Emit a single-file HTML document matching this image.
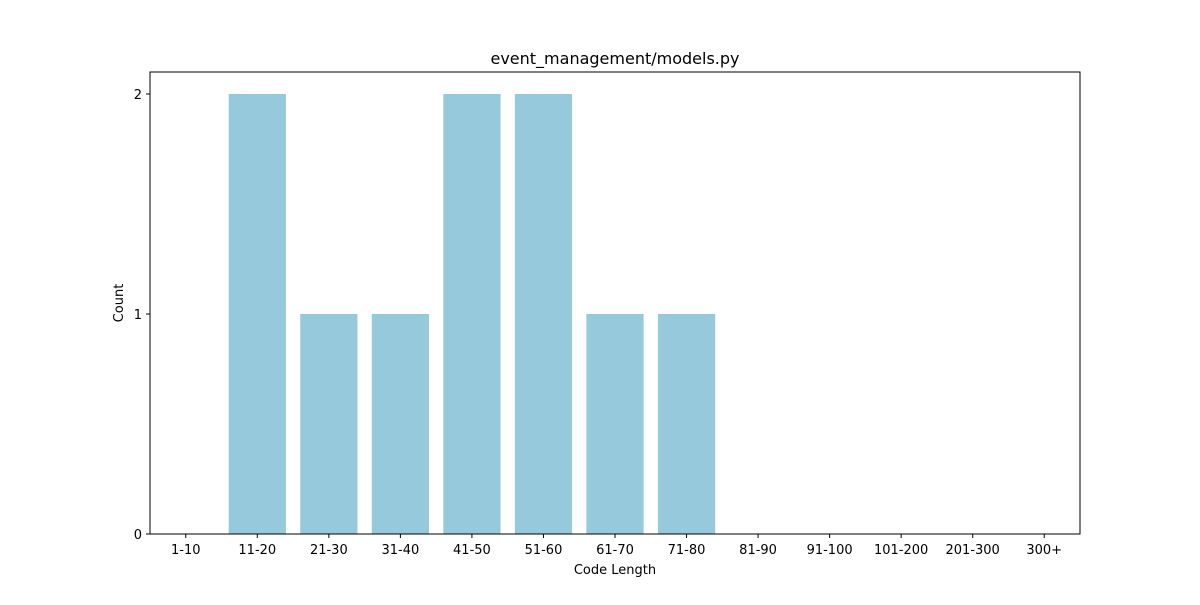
<!DOCTYPE html>
<html><head><meta charset="utf-8"><style>
body{margin:0;background:#fff;}
svg text{font-family:"DejaVu Sans","Liberation Sans",sans-serif;fill:#000;}
</style></head><body>
<svg id="chart" width="1200" height="600">
<rect width="1200" height="600" fill="#fff"/>
<text x="615" y="64" font-size="16" text-anchor="middle">event_management/models.py</text>
<g id="bars"></g>
<g id="ticks"></g>
<rect x="150" y="72" width="930" height="462" fill="none" stroke="#000" stroke-width="1"/>
<text x="615" y="574" font-size="13" text-anchor="middle">Code Length</text>
<text x="123" y="303" font-size="13" text-anchor="middle" transform="rotate(-90 123 303)">Count</text>
</svg>
<script>
const categories=["1-10","11-20","21-30","31-40","41-50","51-60","61-70","71-80","81-90","91-100","101-200","201-300","300+"];
const counts=[0,2,1,1,2,2,1,1,0,0,0,0,0];
const yTicks=[0,1,2];
const L=150,R=1080,T=72,B=534,yMax=2.1;
const xs=i=>L+(i+0.5)*(R-L)/categories.length;
const ys=v=>B-v*(B-T)/yMax;
const bw=0.8*(R-L)/categories.length;
const ns="http://www.w3.org/2000/svg";
const bars=document.getElementById('bars'),ticks=document.getElementById('ticks');
categories.forEach((c,i)=>{
  const r=document.createElementNS(ns,'rect');
  r.setAttribute('x',xs(i)-bw/2);r.setAttribute('y',ys(counts[i]));
  r.setAttribute('width',bw);r.setAttribute('height',B-ys(counts[i]));
  r.setAttribute('fill','#96c9dc');
  
  
  bars.appendChild(r);
  const l=document.createElementNS(ns,'line');
  l.setAttribute('x1',xs(i));l.setAttribute('x2',xs(i));l.setAttribute('y1',B);l.setAttribute('y2',B+4);l.setAttribute('stroke','#000');
  ticks.appendChild(l);
  const t=document.createElementNS(ns,'text');
  t.setAttribute('x',xs(i));t.setAttribute('y',B+20);t.setAttribute('font-size','13');t.setAttribute('text-anchor','middle');
  t.textContent=c;
  
  
  ticks.appendChild(t);
});
yTicks.forEach(v=>{
  const l=document.createElementNS(ns,'line');
  l.setAttribute('x1',L-4);l.setAttribute('x2',L);l.setAttribute('y1',ys(v));l.setAttribute('y2',ys(v));l.setAttribute('stroke','#000');
  ticks.appendChild(l);
  const t=document.createElementNS(ns,'text');
  t.setAttribute('x',L-8);t.setAttribute('y',ys(v)+5);t.setAttribute('font-size','13');t.setAttribute('text-anchor','end');
  t.textContent=v;
  
  
  ticks.appendChild(t);
});
</script>
</body></html>
